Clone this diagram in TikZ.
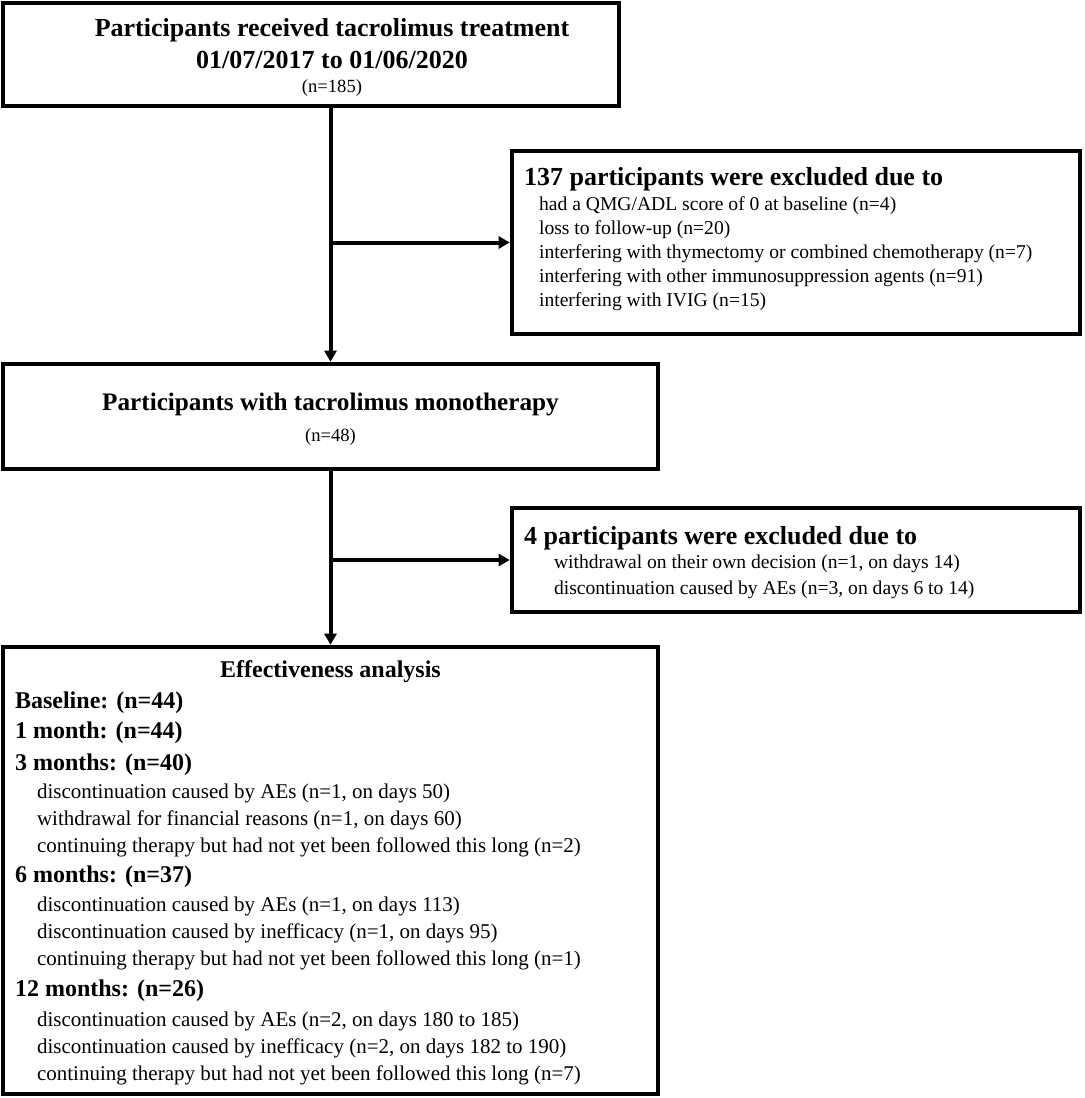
\documentclass[tikz,border=0pt]{standalone}
\usepackage{fontspec}
\setmainfont{Liberation Serif}
\usepackage{tikz}
\usetikzlibrary{positioning, arrows.meta}

\begin{document}
\begin{tikzpicture}[
    x=0.5pt, y=-0.5pt,
    box/.style={rectangle, draw=black, line width=2.3pt, inner sep=0pt},
    title/.style={font=\fontsize{13}{15}\selectfont\bfseries},
    count/.style={font=\fontsize{9.3}{11}\selectfont},
    head/.style={font=\fontsize{12}{14}\selectfont\bfseries, anchor=west},
    item/.style={font=\fontsize{10.5}{13.5}\selectfont, anchor=west, align=left},
    exitem/.style={font=\fontsize{9.8}{12}\selectfont, anchor=west, align=left},
    arrow/.style={-{Triangle[length=5.5pt, width=6pt]}, line width=2pt}
]
    \useasboundingbox (0,0) rectangle (1084,1098);

    % === Screening ===
    \node[box, minimum width=308pt, minimum height=51.5pt] (screen) at (311,54.5) {};
    \node[title] (screentitle) at (332,30) {Participants received tacrolimus treatment};
    \node[title] (screendate) at (332,60) {01/07/2017 to 01/06/2020};
    \node[count] (screencount) at (332,88) {(n=185)};

    % === First exclusion ===
    \node[box, minimum width=284pt, minimum height=91.5pt] (excl1) at (796,242.5) {};
    \node[title, anchor=west] (excl1title) at (517,179) {137 participants were excluded due to};
    \node[exitem] (excl1list) at (532,254) {%
        had a QMG/ADL score of 0 at baseline (n=4)\\
        loss to follow-up (n=20)\\
        interfering with thymectomy or combined chemotherapy (n=7)\\
        interfering with other immunosuppression agents (n=91)\\
        interfering with IVIG (n=15)};

    % === Monotherapy ===
    \node[box, minimum width=327.5pt, minimum height=52.5pt] (mono) at (330.5,416.5) {};
    \node[title, font=\fontsize{12.6}{15}\selectfont\bfseries] (monotitle) at (330.5,404) {Participants with tacrolimus monotherapy};
    \node[count] (monocount) at (330.5,437) {(n=48)};

    % === Second exclusion ===
    \node[box, minimum width=284pt, minimum height=52pt] (excl2) at (796,560) {};
    \node[title, anchor=west] (excl2title) at (517,538) {4 participants were excluded due to};
    \node[exitem, font=\fontsize{9.8}{13}\selectfont] (excl2list) at (547,577) {%
        withdrawal on their own decision (n=1, on days 14)\\
        discontinuation caused by AEs (n=3, on days 6 to 14)};

    % === Effectiveness analysis ===
    \node[box, minimum width=327.5pt, minimum height=223.5pt] (effect) at (330.5,870.5) {};
    \node[head, anchor=center] (effecttitle) at (330.5,672) {Effectiveness analysis};
    \node[head] (base) at (8,703) {Baseline: (n=44)};
    \node[head] (month1) at (8,733) {1 month: (n=44)};
    \node[head] (month3) at (8,765) {3 months: (n=40)};
    \node[item] (month3list) at (30,820) {%
        discontinuation caused by AEs (n=1, on days 50)\\
        withdrawal for financial reasons (n=1, on days 60)\\
        continuing therapy but had not yet been followed this long (n=2)};
    \node[head] (month6) at (8,877) {6 months: (n=37)};
    \node[item] (month6list) at (30,933) {%
        discontinuation caused by AEs (n=1, on days 113)\\
        discontinuation caused by inefficacy (n=1, on days 95)\\
        continuing therapy but had not yet been followed this long (n=1)};
    \node[head] (month12) at (8,991) {12 months: (n=26)};
    \node[item] (month12list) at (30,1048) {%
        discontinuation caused by AEs (n=2, on days 180 to 185)\\
        discontinuation caused by inefficacy (n=2, on days 182 to 190)\\
        continuing therapy but had not yet been followed this long (n=7)};

    % Arrows
    \draw[arrow] (screen.south -| mono.north) -- (mono.north);
    \draw[arrow] (excl1.west -| mono.north) -- (excl1.west);
    \draw[arrow] (mono.south) -- (effect.north);
    \draw[arrow] (excl2.west -| mono.south) -- (excl2.west);
\end{tikzpicture}
\end{document}
